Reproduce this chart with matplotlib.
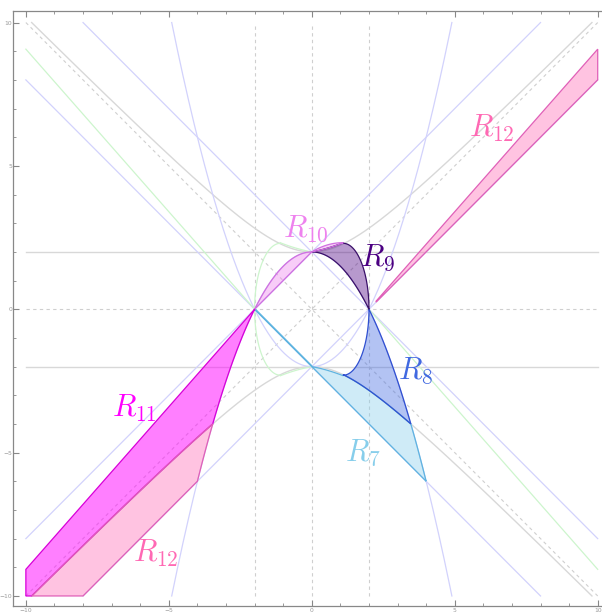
import numpy as np
import matplotlib.pyplot as plt
from matplotlib.patches import Polygon

plt.rcParams['mathtext.fontset'] = 'cm'

# slope of the green / pink rays through (+-2, 0)
K = 1.134
# oval through (2, 0): centre x, half width, half height
OVAL_CX, OVAL_A, OVAL_B = 1.1, 0.9, 2.3
# small quadratics for the upper boundaries near (0, 2)
M_COEF = [2.0, 0.186, 0.095]
N_COEF = [2.0, 0.6, -0.28]
X0_WEDGE = 2.25  # start of the upper R12 wedge

labels = [r'$R_7$', r'$R_8$', r'$R_9$', r'$R_{10}$', r'$R_{11}$', r'$R_{12}$', r'$R_{12}$']
label_x = [1.78, 3.64, 2.3, -0.2, -6.2, 6.29, -5.45]
label_y = [-5.0, -2.15, 1.78, 2.82, -3.45, 6.3, -8.5]
label_col = ['skyblue', 'royalblue', 'indigo', 'violet', 'magenta', 'hotpink', 'hotpink']

ticks_major = [-10, -5, 0, 5, 10]


def par_dn(x):
    return 2 - x**2 / 2


def par_up(x):
    return x**2 / 2 - 2


def hyp(x):
    return np.sqrt(x**2 + 4)


def quad(c, x):
    return c[0] + c[1] * x + c[2] * x**2


def seg(f, a, b, n=80):
    x = np.linspace(a, b, n)
    return np.column_stack([x, f(x)])


def oval_arc(t0, t1, side=1, n=80):
    t = np.linspace(t0, t1, n)
    return np.column_stack([side * (OVAL_CX + OVAL_A * np.cos(t)), OVAL_B * np.sin(t)])


fig = plt.figure(figsize=(6.02, 6.14), dpi=100)
ax = fig.add_axes([13 / 602, 8 / 614, 589 / 602, 595.5 / 614])
ax.set_xlim(-10.45, 10.15)
ax.set_ylim(-10.35, 10.42)

# ---- guide curves ----
gray = '#d8d8d8'
lav = '#d2d2fc'
grn = '#cdf5cd'
dash = dict(color='#cfcfcf', lw=0.8, ls=(0, (3, 3)))

for yv in (2, -2):
    ax.plot([-10, 10], [yv, yv], color=gray, lw=1, zorder=1)
ax.plot([-10, 10], [0, 0], **dash, zorder=1)
for xv in (-2, 0, 2):
    ax.plot([xv, xv], [-10, 10], **dash, zorder=1)
ax.plot([-10, 10], [-10, 10], **dash, zorder=1)
ax.plot([-10, 10], [10, -10], **dash, zorder=1)

xh = np.linspace(-np.sqrt(96), np.sqrt(96), 300)
ax.plot(xh, hyp(xh), color=gray, lw=1, zorder=1)
ax.plot(xh, -hyp(xh), color=gray, lw=1, zorder=1)

xp = np.linspace(-np.sqrt(24), np.sqrt(24), 300)
ax.plot(xp, par_up(xp), color=lav, lw=0.9, zorder=1)
ax.plot(xp, par_dn(xp), color=lav, lw=0.9, zorder=1)
ax.plot([-8, 10], [10, -8], color=lav, lw=0.9, zorder=1)
ax.plot([-10, 8], [8, -10], color=lav, lw=0.9, zorder=1)
ax.plot([-10, 8], [-8, 10], color=lav, lw=0.9, zorder=1)
ax.plot([-8, 10], [-10, 8], color=lav, lw=0.9, zorder=1)

ax.plot([-10, -2], [8 * K, 0], color=grn, lw=0.9, zorder=1)
ax.plot([2, 10], [0, -8 * K], color=grn, lw=0.9, zorder=1)
g = oval_arc(-np.pi / 2, np.pi / 2, side=-1)
ax.plot(g[:, 0], g[:, 1], color=grn, lw=0.9, zorder=1)
gm = seg(lambda x: quad(M_COEF, -x), -OVAL_CX, 0)
ax.plot(gm[:, 0], gm[:, 1], color=grn, lw=0.9, zorder=1)
ax.plot(gm[:, 0], -gm[:, 1], color=grn, lw=0.9, zorder=1)

# ---- regions ----
x_ph = 2 * np.sqrt(3)      # parabola meets lower hyperbola
x_h10 = np.sqrt(96)        # hyperbola reaches y = -10
x_b = OVAL_CX

regions = {
    'R7': np.vstack([
        seg(lambda x: -x - 2, -2, 4),
        seg(par_dn, 4, x_ph),
        seg(lambda x: -hyp(x), x_ph, x_b),
        seg(lambda x: -quad(M_COEF, x), x_b, 0),
        seg(lambda x: -x - 1.97, 0, -1.97),
    ]),
    'R8': np.vstack([
        seg(par_dn, 2, x_ph),
        seg(lambda x: -hyp(x), x_ph, x_b),
        oval_arc(-np.pi / 2, 0),
    ]),
    'R9': np.vstack([
        seg(par_dn, 0, 2),
        oval_arc(0, np.pi / 2),
        seg(lambda x: quad(M_COEF, x), x_b, 0),
    ]),
    'R10': np.vstack([
        seg(lambda x: x + 2, -2, 0),
        seg(lambda x: quad(N_COEF, x), 0, x_b),
        seg(lambda x: quad(M_COEF, x), x_b, 0),
        seg(par_dn, 0, -2),
    ]),
    'R11': np.vstack([
        seg(lambda x: K * (x + 2), -2, -10),
        [[-10, -10]],
        seg(lambda x: -hyp(x), -x_h10, -x_ph),
        seg(par_dn, -x_ph, -2),
    ]),
    'R12a': np.vstack([
        seg(lambda x: -hyp(x), -x_h10, -x_ph),
        seg(par_dn, -x_ph, -4),
        seg(lambda x: x - 2, -4, -8),
    ]),
    'R12b': np.vstack([
        seg(lambda x: x - 2, X0_WEDGE, 10),
        seg(lambda x: K * (x - 2), 10, X0_WEDGE),
    ]),
}
region_col = {'R7': 'skyblue', 'R8': 'royalblue', 'R9': 'indigo', 'R10': 'violet',
              'R11': 'magenta', 'R12a': 'hotpink', 'R12b': 'hotpink'}
edge_col = {'R7': '#5fb4e0', 'R8': '#3050d0', 'R9': '#3a1068', 'R10': '#d070e0',
            'R11': '#d800d8', 'R12a': '#e060b8', 'R12b': '#e060b8'}
region_alpha = {'R7': 0.4, 'R8': 0.4, 'R9': 0.4, 'R10': 0.4,
                'R11': 0.5, 'R12a': 0.4, 'R12b': 0.4}

for name, pts in regions.items():
    ax.add_patch(Polygon(pts, closed=True, facecolor=region_col[name],
                         alpha=region_alpha[name], edgecolor='none', zorder=2))
    ax.add_patch(Polygon(pts, closed=True, fill=False, edgecolor=edge_col[name],
                         lw=0.9, zorder=3))

for s, x, y, c in zip(labels, label_x, label_y, label_col):
    ax.text(x, y, s, color=c, fontsize=22, ha='center', va='center', zorder=4)

# ---- frame ----
for side in ('left', 'bottom', 'top'):
    ax.spines[side].set_color('#888888')
    ax.spines[side].set_linewidth(0.9)
ax.spines['right'].set_visible(False)
ax.set_xticks(ticks_major)
ax.set_yticks(ticks_major)
ax.set_xticks(range(-10, 11), minor=True)
ax.set_yticks(range(-10, 11), minor=True)
ax.tick_params(which='both', direction='in', top=True, right=False,
               color='#888888', labelcolor='#999999', labelsize=4.3)
ax.tick_params(axis='x', pad=1.5)
ax.tick_params(axis='y', pad=0.6)
ax.tick_params(which='major', length=4, width=0.8)
ax.tick_params(which='minor', length=2.5, width=0.6)

fig.savefig('out.png', dpi=100)
